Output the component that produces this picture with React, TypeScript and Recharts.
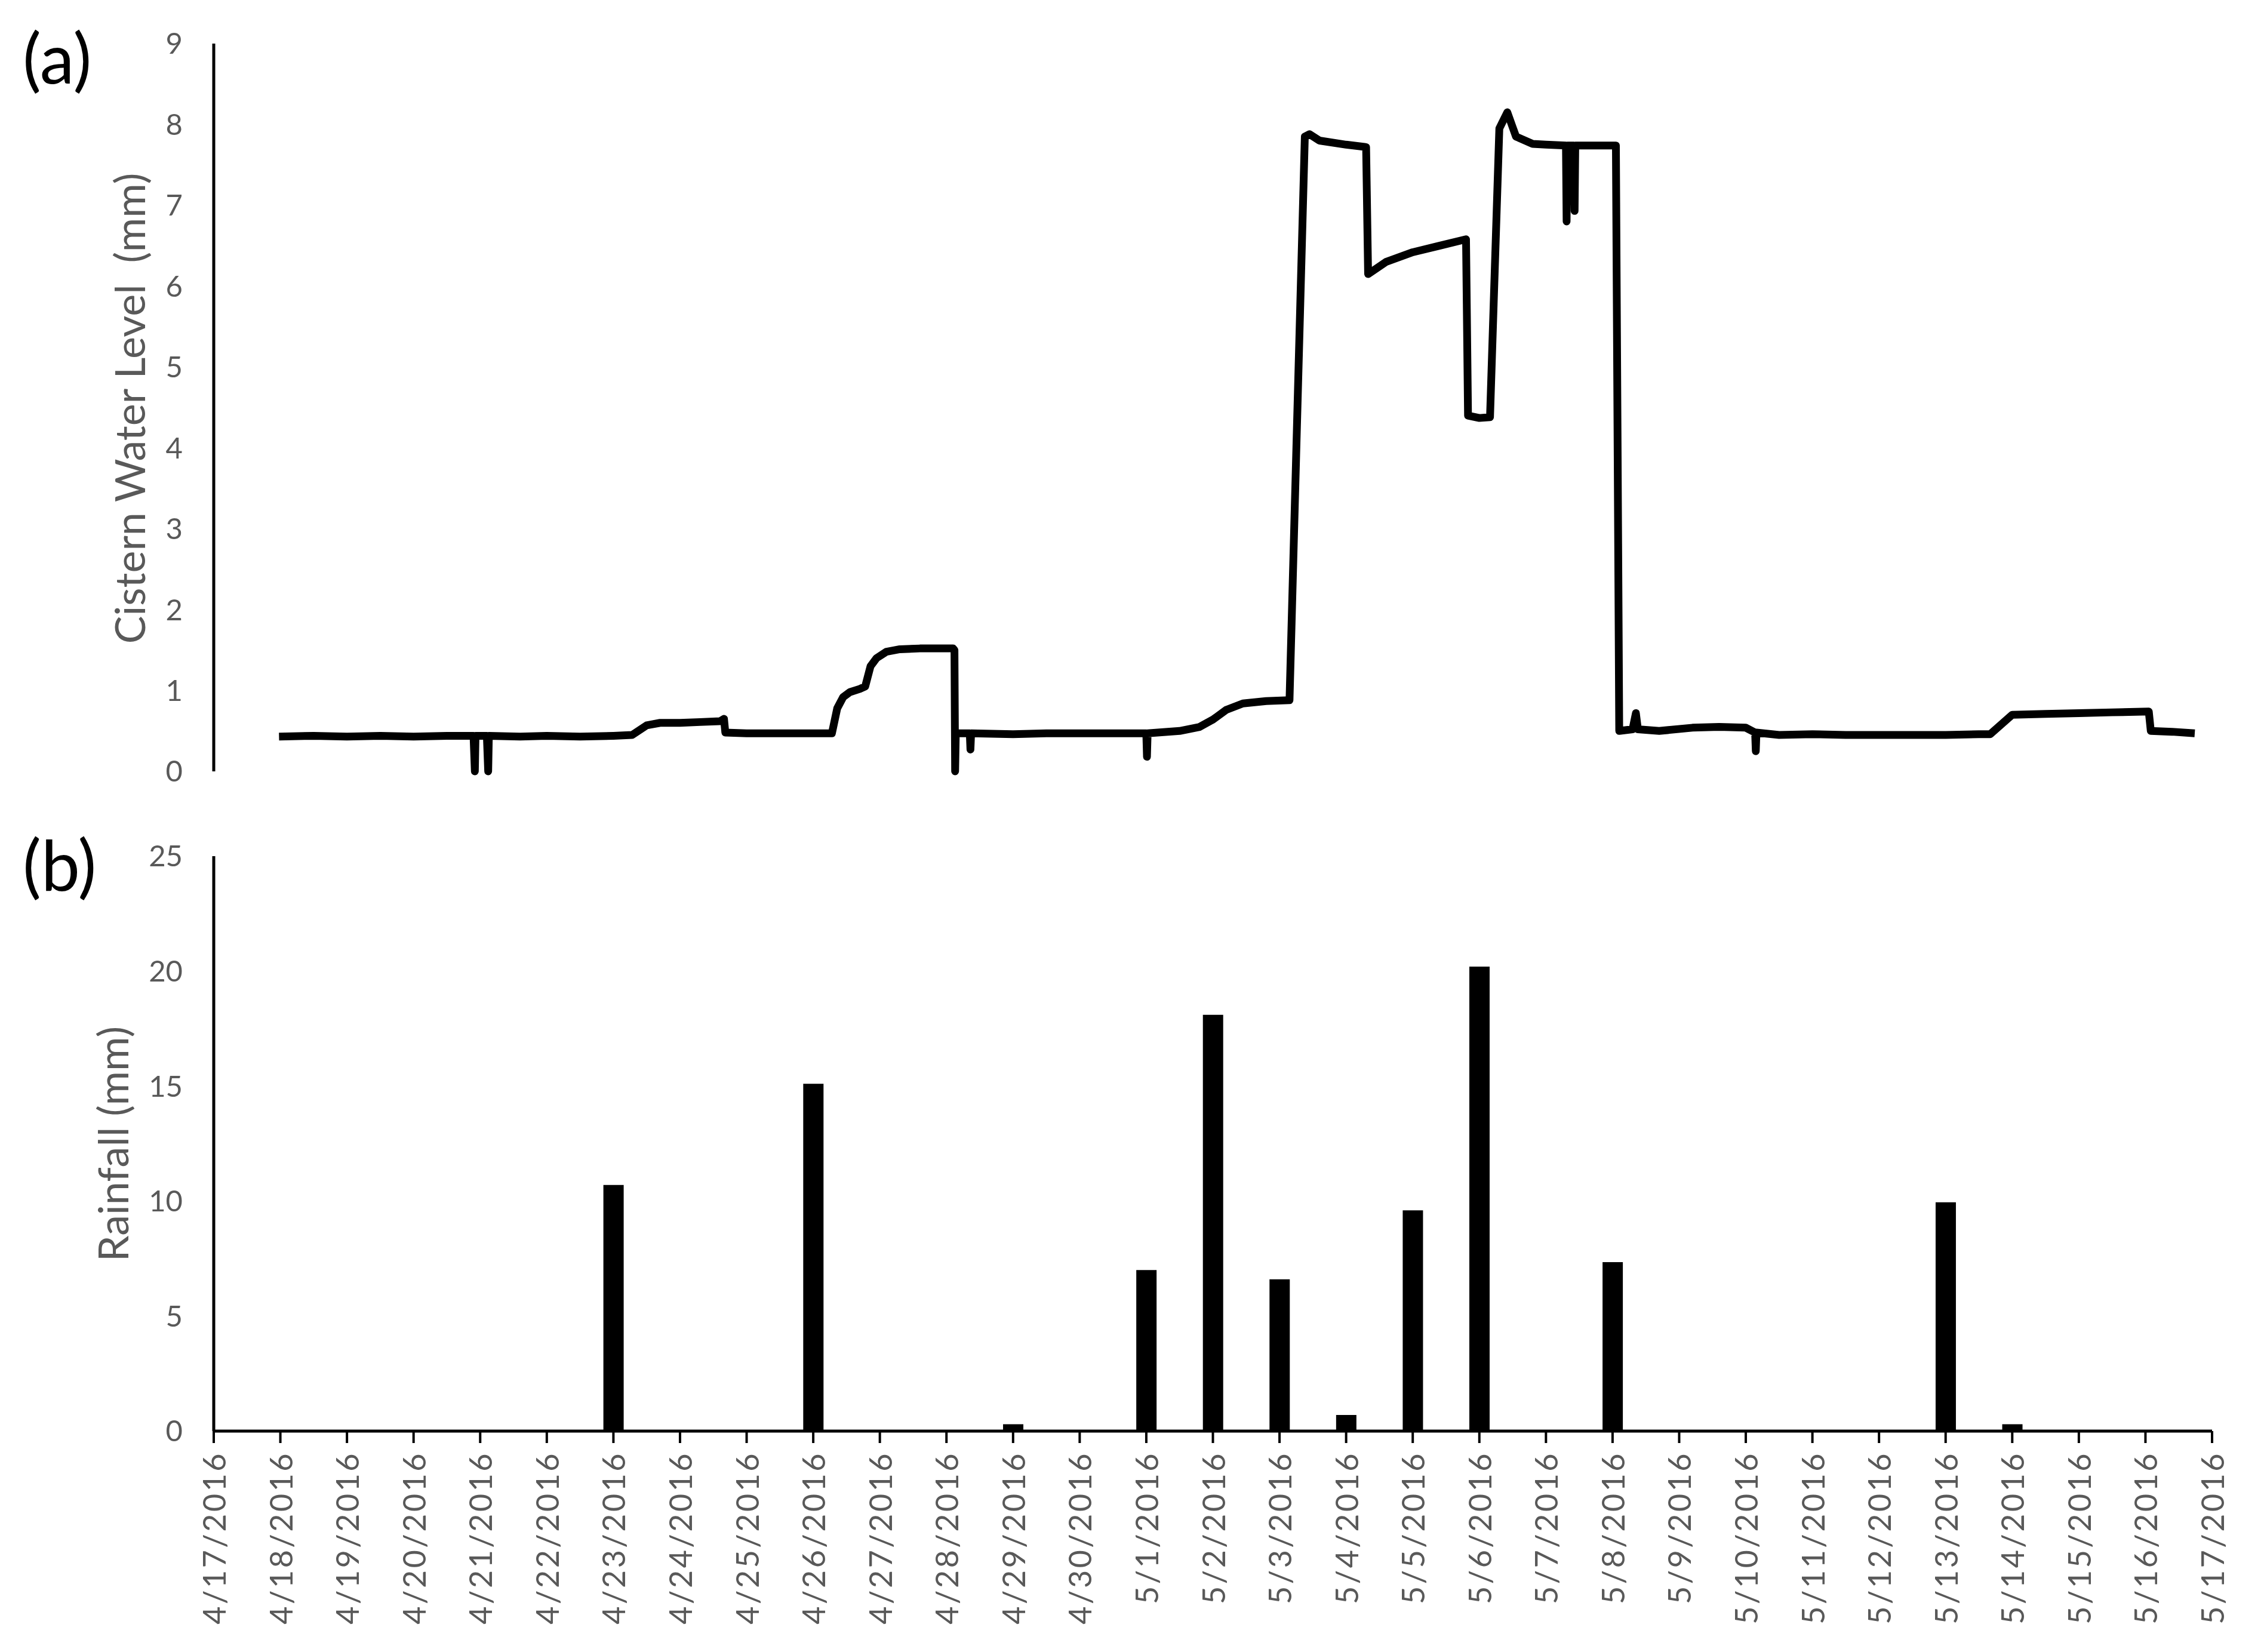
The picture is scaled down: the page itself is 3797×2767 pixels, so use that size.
import React from "react";
import {
  LineChart,
  Line,
  BarChart,
  Bar,
  XAxis,
  YAxis,
} from "recharts";

// x positions are days after 4/17/2016 00:00
const dateLabels = [
  "4/17/2016", "4/18/2016", "4/19/2016", "4/20/2016", "4/21/2016", "4/22/2016",
  "4/23/2016", "4/24/2016", "4/25/2016", "4/26/2016", "4/27/2016", "4/28/2016",
  "4/29/2016", "4/30/2016", "5/1/2016", "5/2/2016", "5/3/2016", "5/4/2016",
  "5/5/2016", "5/6/2016", "5/7/2016", "5/8/2016", "5/9/2016", "5/10/2016",
  "5/11/2016", "5/12/2016", "5/13/2016", "5/14/2016", "5/15/2016", "5/16/2016",
  "5/17/2016",
];

const rainfallMm = [
  0, 0, 0, 0, 0, 0, 10.7, 0, 0, 15.1, 0, 0, 0.3, 0, 7.0, 18.1, 6.6, 0.7, 9.6,
  20.2, 0, 7.35, 0, 0, 0, 0, 9.95, 0.3, 0, 0, 0,
];

const levelDay = [
  0.98, 1.5, 2.0, 2.5, 3.0, 3.5, 3.9, 3.92, 3.93, 4.1, 4.12, 4.13, 4.6, 5.0,
  5.5, 6.0, 6.28, 6.5, 6.7, 7.0, 7.3, 7.6, 7.66, 7.68, 8.0, 8.5, 9.0, 9.28,
  9.36, 9.45, 9.55, 9.7, 9.78, 9.86, 9.95, 10.1, 10.3, 10.6, 10.9, 11.1, 11.12,
  11.13, 11.14, 11.35, 11.36, 11.37, 12.0, 12.5, 13.0, 13.5, 14.0, 14.01,
  14.02, 14.5, 14.8, 15.0, 15.2, 15.45, 15.8, 16.15, 16.38, 16.45, 16.6, 17.0,
  17.3, 17.33, 17.6, 18.0, 18.4, 18.8, 18.83, 19.0, 19.16, 19.3, 19.42, 19.55,
  19.8, 20.0, 20.3, 20.31, 20.32, 20.42, 20.43, 20.44, 20.7, 21.05, 21.1, 21.3,
  21.35, 21.38, 21.7, 22.2, 22.6, 23.0, 23.14, 23.15, 23.16, 23.5, 24.0, 24.5,
  25.0, 25.5, 26.0, 26.5, 26.67, 27.0, 27.5, 28.0, 28.5, 29.05, 29.08, 29.4,
  29.74,
];

const levelMm = [
  0.43, 0.44, 0.43, 0.44, 0.43, 0.44, 0.44, 0.0, 0.44, 0.44, 0.0, 0.44, 0.43,
  0.44, 0.43, 0.44, 0.45, 0.57, 0.6, 0.6, 0.61, 0.62, 0.65, 0.48, 0.47, 0.47,
  0.47, 0.47, 0.78, 0.92, 0.98, 1.02, 1.05, 1.3, 1.4, 1.48, 1.51, 1.52, 1.52,
  1.52, 1.5, 0.0, 0.47, 0.47, 0.27, 0.47, 0.46, 0.47, 0.47, 0.47, 0.47, 0.18,
  0.47, 0.5, 0.55, 0.64, 0.76, 0.84, 0.87, 0.88, 7.85, 7.88, 7.8, 7.75, 7.72,
  6.15, 6.3, 6.42, 6.5, 6.58, 4.4, 4.37, 4.38, 7.95, 8.15, 7.85, 7.76, 7.75,
  7.74, 6.8, 7.74, 7.74, 6.93, 7.74, 7.74, 7.74, 0.5, 0.52, 0.72, 0.52, 0.5,
  0.54, 0.55, 0.54, 0.48, 0.25, 0.48, 0.45, 0.46, 0.45, 0.45, 0.45, 0.45, 0.46,
  0.46, 0.7, 0.71, 0.72, 0.73, 0.74, 0.5, 0.49, 0.47,
];

const levelTicks = [0, 1, 2, 3, 4, 5, 6, 7, 8, 9];
const rainTicks = [0, 5, 10, 15, 20, 25];
const dayTicks = dateLabels.map((_, i) => i);

const levelData = levelDay.map((d, i) => ({ day: d, level: levelMm[i] }));
const rainData = rainfallMm.map((r, i) => ({ day: i, rain: r }));

const FONT = "Lato, 'Open Sans', sans-serif";
const GREY = "#595959";

const yTickStyle = { fontSize: 49, fill: GREY, fontFamily: FONT };

const DateTick = (props: any) => {
  const { x, y, payload } = props;
  return (
    <text
      x={x}
      y={y}
      transform={`rotate(-90, ${x}, ${y})`}
      textAnchor="end"
      dominantBaseline="central"
      fontSize={52}
      fontFamily={FONT}
      fill={GREY}
      letterSpacing={3.5}
    >
      {dateLabels[payload.value]}
    </text>
  );
};

export default function App() {
  return (
    <div
      style={{
        position: "absolute",
        left: 0,
        top: 0,
        width: 3797,
        height: 2767,
        background: "#fff",
      }}
    >
      <div style={{ position: "absolute", left: 0, top: 0 }}>
        <LineChart
          width={3797}
          height={1330}
          data={levelData}
          margin={{ top: 73, right: 92, bottom: 38, left: 238 }}
        >
          <XAxis type="number" dataKey="day" domain={[0, 30]} hide />
          <YAxis
            type="number"
            domain={[0, 9]}
            ticks={levelTicks}
            width={120}
            tickLine={false}
            tickSize={0}
            tickMargin={52}
            axisLine={{ stroke: "#000", strokeWidth: 5 }}
            tick={yTickStyle}
          />
          <Line
            type="linear"
            dataKey="level"
            stroke="#000"
            strokeWidth={13}
            strokeLinejoin="round"
            dot={false}
            isAnimationActive={false}
          />
        </LineChart>
      </div>

      <div style={{ position: "absolute", left: 0, top: 1330 }}>
        <BarChart
          width={3797}
          height={1437}
          data={rainData}
          margin={{ top: 104, right: 92, bottom: 30, left: 238 }}
        >
          <XAxis
            type="number"
            dataKey="day"
            domain={[0, 30]}
            ticks={dayTicks}
            interval={0}
            height={340}
            tickSize={20}
            tickMargin={14}
            axisLine={{ stroke: "#000", strokeWidth: 5 }}
            tickLine={{ stroke: "#000", strokeWidth: 4 }}
            tick={<DateTick />}
          />
          <YAxis
            type="number"
            domain={[0, 25]}
            ticks={rainTicks}
            width={120}
            tickLine={false}
            tickSize={0}
            tickMargin={52}
            axisLine={{ stroke: "#000", strokeWidth: 5 }}
            tick={yTickStyle}
          />
          <Bar
            dataKey="rain"
            fill="#000"
            barSize={34}
            isAnimationActive={false}
          />
        </BarChart>
      </div>

      <svg
        width={3797}
        height={2767}
        style={{ position: "absolute", left: 0, top: 0, pointerEvents: "none" }}
      >
        <text x={38} y={140} fontSize={116} fontFamily={FONT} fill="#000">
          (a)
        </text>
        <text x={38} y={1491} fontSize={116} fontFamily={FONT} fill="#000">
          (b)
        </text>
        <text
          x={216}
          y={684}
          transform="rotate(-90, 216, 684)"
          textAnchor="middle"
          dominantBaseline="central"
          fontSize={70}
          fontFamily={FONT}
          fill={GREY}
          style={{ whiteSpace: "pre" }}
        >
          {"Cistern Water Level  (mm)"}
        </text>
        <text
          x={188}
          y={1916}
          transform="rotate(-90, 188, 1916)"
          textAnchor="middle"
          dominantBaseline="central"
          fontSize={70}
          fontFamily={FONT}
          fill={GREY}
        >
          Rainfall (mm)
        </text>
      </svg>
    </div>
  );
}
